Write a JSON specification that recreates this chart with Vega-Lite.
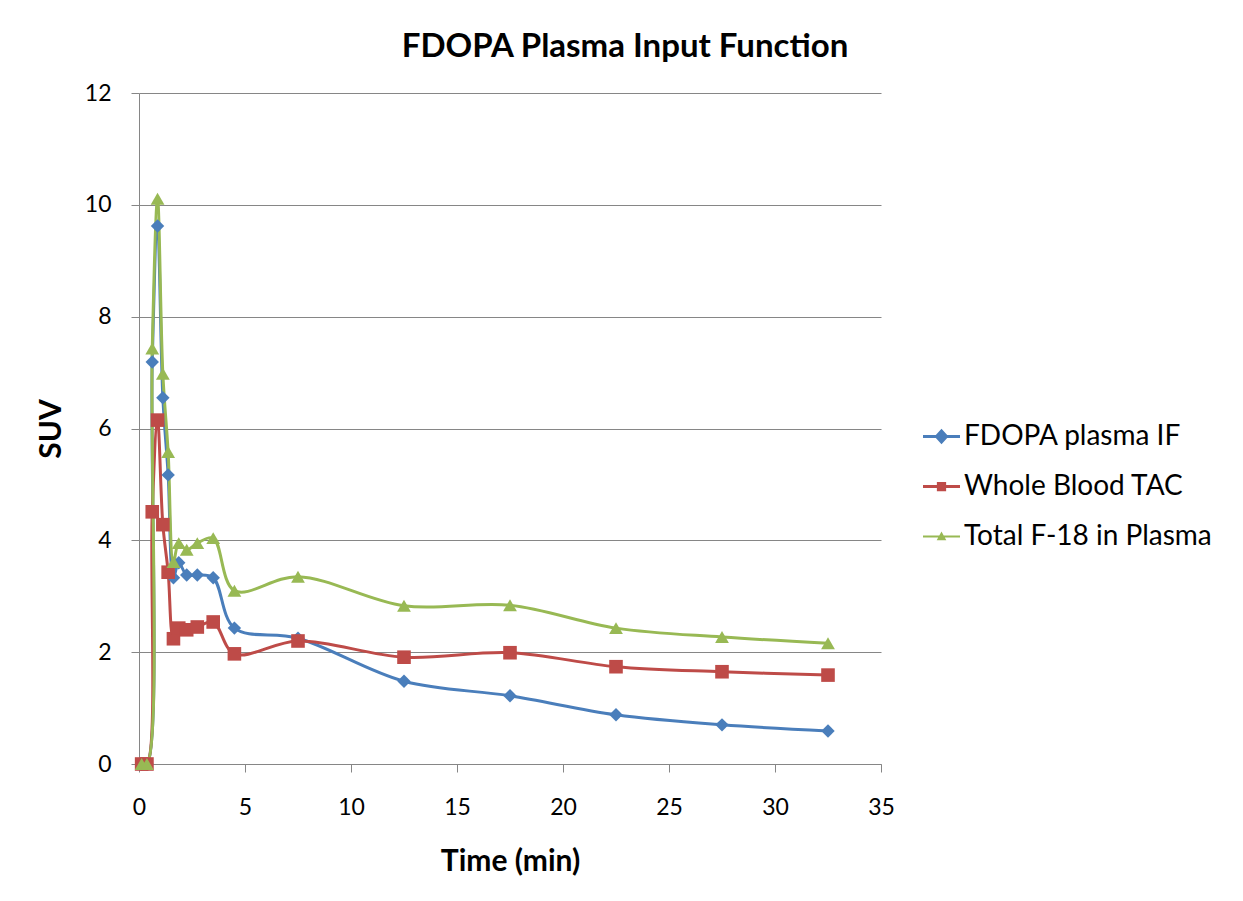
{
  "$schema": "https://vega.github.io/schema/vega-lite/v6.json",
  "autosize": "none",
  "width": 742,
  "height": 671,
  "padding": {"left": 139, "top": 93, "right": 362, "bottom": 137},
  "background": "white",
  "config": {
    "font": "Lato",
    "view": {"stroke": null},
    "axis": {"labelFont": "Lato", "titleFont": "Lato", "labelColor": "black", "titleColor": "black", "labelFlush": false, "labelOverlap": false}
  },
  "title": {"text": "FDOPA Plasma Input Function", "fontSize": 33, "font": "Lato", "fontWeight": "bold", "color": "black", "anchor": "middle", "offset": 18, "dx": 115},
  "data": {"values": [
    {"t": 0.125, "v": 0, "s": "FDOPA plasma IF"},
    {"t": 0.375, "v": 0, "s": "FDOPA plasma IF"},
    {"t": 0.625, "v": 7.19, "s": "FDOPA plasma IF"},
    {"t": 0.875, "v": 9.62, "s": "FDOPA plasma IF"},
    {"t": 1.125, "v": 6.55, "s": "FDOPA plasma IF"},
    {"t": 1.375, "v": 5.17, "s": "FDOPA plasma IF"},
    {"t": 1.625, "v": 3.33, "s": "FDOPA plasma IF"},
    {"t": 1.875, "v": 3.6, "s": "FDOPA plasma IF"},
    {"t": 2.25, "v": 3.38, "s": "FDOPA plasma IF"},
    {"t": 2.75, "v": 3.38, "s": "FDOPA plasma IF"},
    {"t": 3.5, "v": 3.33, "s": "FDOPA plasma IF"},
    {"t": 4.5, "v": 2.43, "s": "FDOPA plasma IF"},
    {"t": 7.5, "v": 2.25, "s": "FDOPA plasma IF"},
    {"t": 12.5, "v": 1.48, "s": "FDOPA plasma IF"},
    {"t": 17.5, "v": 1.22, "s": "FDOPA plasma IF"},
    {"t": 22.5, "v": 0.88, "s": "FDOPA plasma IF"},
    {"t": 27.5, "v": 0.7, "s": "FDOPA plasma IF"},
    {"t": 32.5, "v": 0.59, "s": "FDOPA plasma IF"},
    {"t": 0.125, "v": 0, "s": "Whole Blood TAC"},
    {"t": 0.375, "v": 0, "s": "Whole Blood TAC"},
    {"t": 0.625, "v": 4.51, "s": "Whole Blood TAC"},
    {"t": 0.875, "v": 6.15, "s": "Whole Blood TAC"},
    {"t": 1.125, "v": 4.28, "s": "Whole Blood TAC"},
    {"t": 1.375, "v": 3.43, "s": "Whole Blood TAC"},
    {"t": 1.625, "v": 2.24, "s": "Whole Blood TAC"},
    {"t": 1.875, "v": 2.43, "s": "Whole Blood TAC"},
    {"t": 2.25, "v": 2.4, "s": "Whole Blood TAC"},
    {"t": 2.75, "v": 2.45, "s": "Whole Blood TAC"},
    {"t": 3.5, "v": 2.54, "s": "Whole Blood TAC"},
    {"t": 4.5, "v": 1.97, "s": "Whole Blood TAC"},
    {"t": 7.5, "v": 2.2, "s": "Whole Blood TAC"},
    {"t": 12.5, "v": 1.91, "s": "Whole Blood TAC"},
    {"t": 17.5, "v": 1.99, "s": "Whole Blood TAC"},
    {"t": 22.5, "v": 1.74, "s": "Whole Blood TAC"},
    {"t": 27.5, "v": 1.65, "s": "Whole Blood TAC"},
    {"t": 32.5, "v": 1.59, "s": "Whole Blood TAC"},
    {"t": 0.125, "v": 0, "s": "Total F-18 in Plasma"},
    {"t": 0.375, "v": 0, "s": "Total F-18 in Plasma"},
    {"t": 0.625, "v": 7.43, "s": "Total F-18 in Plasma"},
    {"t": 0.875, "v": 10.11, "s": "Total F-18 in Plasma"},
    {"t": 1.125, "v": 6.98, "s": "Total F-18 in Plasma"},
    {"t": 1.375, "v": 5.58, "s": "Total F-18 in Plasma"},
    {"t": 1.625, "v": 3.61, "s": "Total F-18 in Plasma"},
    {"t": 1.875, "v": 3.95, "s": "Total F-18 in Plasma"},
    {"t": 2.25, "v": 3.83, "s": "Total F-18 in Plasma"},
    {"t": 2.75, "v": 3.95, "s": "Total F-18 in Plasma"},
    {"t": 3.5, "v": 4.04, "s": "Total F-18 in Plasma"},
    {"t": 4.5, "v": 3.1, "s": "Total F-18 in Plasma"},
    {"t": 7.5, "v": 3.35, "s": "Total F-18 in Plasma"},
    {"t": 12.5, "v": 2.83, "s": "Total F-18 in Plasma"},
    {"t": 17.5, "v": 2.84, "s": "Total F-18 in Plasma"},
    {"t": 22.5, "v": 2.43, "s": "Total F-18 in Plasma"},
    {"t": 27.5, "v": 2.27, "s": "Total F-18 in Plasma"},
    {"t": 32.5, "v": 2.16, "s": "Total F-18 in Plasma"}
  ]},
  "encoding": {
    "x": {"field": "t", "type": "quantitative", "title": "Time (min)",
      "scale": {"domain": [0, 35], "nice": false, "zero": true},
      "axis": {"values": [0,5,10,15,20,25,30,35], "grid": false, "labelFontSize": 23, "titleFontSize": 30, "titleFontWeight": "bold", "titlePadding": 27, "domainColor": "#868686", "tickColor": "#868686", "tickSize": 8, "labelPadding": 24, "domainWidth": 1}},
    "y": {"field": "v", "type": "quantitative", "title": "SUV",
      "scale": {"domain": [0, 12], "nice": false},
      "axis": {"values": [0,2,4,6,8,10,12], "grid": true, "gridColor": "#868686", "gridWidth": 1, "labelFontSize": 23, "titleFontSize": 30, "titleFontWeight": "bold", "titlePadding": 18, "domainColor": "#868686", "tickColor": "#868686", "tickSize": 8, "labelPadding": 20, "domainWidth": 1}}
  },
  "layer": [
    {"mark": {"type": "line", "interpolate": "catmull-rom"},
     "encoding": {
       "color": {"field": "s", "type": "nominal",
         "scale": {"domain": ["FDOPA plasma IF", "Whole Blood TAC", "Total F-18 in Plasma"], "range": ["#4A7EBB", "#BE4B48", "#98B954"]},
         "legend": null},
       "strokeWidth": {"field": "s", "type": "nominal", "scale": {"domain": ["FDOPA plasma IF", "Whole Blood TAC", "Total F-18 in Plasma"], "range": [3, 3, 1.8]}, "legend": null}
     }},
    {"mark": {"type": "point", "filled": true, "opacity": 1},
     "encoding": {
       "color": {"field": "s", "type": "nominal",
         "scale": {"domain": ["FDOPA plasma IF", "Whole Blood TAC", "Total F-18 in Plasma"], "range": ["#4A7EBB", "#BE4B48", "#98B954"]},
         "legend": null},
       "shape": {"field": "s", "type": "nominal",
         "scale": {"domain": ["FDOPA plasma IF", "Whole Blood TAC", "Total F-18 in Plasma"], "range": ["diamond", "square", "triangle-up"]},
         "legend": null},
       "size": {"field": "s", "type": "nominal", "scale": {"domain": ["FDOPA plasma IF", "Whole Blood TAC", "Total F-18 in Plasma"], "range": [180, 190, 160]}, "legend": null}
     }},
    {"mark": {"type": "point", "filled": true, "opacity": 0, "strokeWidth": 0},
     "encoding": {
       "fill": {"field": "s", "type": "nominal", "title": null,
         "sort": ["FDOPA plasma IF", "Whole Blood TAC", "Total F-18 in Plasma"],
         "scale": {"domain": ["FDOPA plasma IF", "Whole Blood TAC", "Total F-18 in Plasma"], "range": ["#4A7EBB", "#BE4B48", "#98B954"]},
         "legend": {"orient": "none", "legendX": 784, "legendY": 325, "labelFontSize": 28, "labelFont": "Lato", "labelColor": "black", "labelLimit": 400, "rowPadding": 17, "symbolSize": 1369, "symbolOpacity": 1, "symbolStrokeWidth": 0, "labelOffset": 4}},
       "shape": {"field": "s", "type": "nominal", "title": null,
         "sort": ["FDOPA plasma IF", "Whole Blood TAC", "Total F-18 in Plasma"],
         "scale": {"domain": ["FDOPA plasma IF", "Whole Blood TAC", "Total F-18 in Plasma"], "range": [
           "M-1,-0.085H1V0.085H-1Z M0,-0.42L0.38,0L0,0.42L-0.38,0Z",
           "M-1,-0.085H1V0.085H-1Z M-0.25,-0.25H0.25V0.25H-0.25Z",
           "M-1,-0.055H1V0.055H-1Z M0,-0.27L0.26,0.2L-0.26,0.2Z"]},
         "legend": {"orient": "none", "legendX": 784, "legendY": 325, "labelFontSize": 28, "labelFont": "Lato", "labelColor": "black", "labelLimit": 400, "rowPadding": 17, "symbolSize": 1369, "symbolOpacity": 1, "symbolStrokeWidth": 0, "labelOffset": 4}},
       "size": {"value": 0}
     }}
  ],
  "resolve": {"scale": {"shape": "independent", "fill": "independent"}}
}
